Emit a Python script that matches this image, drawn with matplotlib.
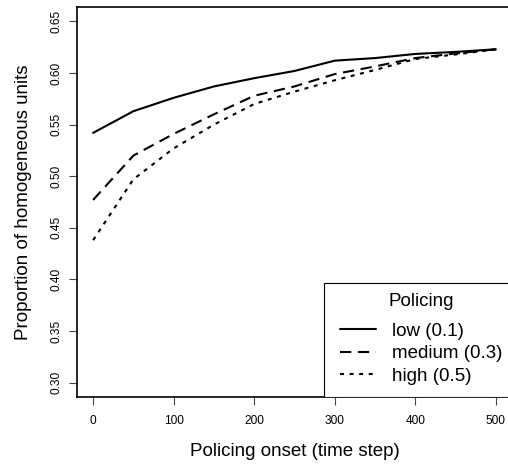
import matplotlib
matplotlib.use("Agg")
import matplotlib.pyplot as plt
from matplotlib.patches import Rectangle

plt.rcParams['font.family'] = ['Liberation Sans', 'DejaVu Sans']

onset = [0, 50, 100, 150, 200, 250, 300, 350, 400, 450, 500]
low = [0.542, 0.563, 0.576, 0.587, 0.595, 0.602, 0.612, 0.6145, 0.6185, 0.6205, 0.623]
medium = [0.477, 0.520, 0.541, 0.560, 0.578, 0.587, 0.599, 0.6064, 0.6145, 0.619, 0.623]
high = [0.438, 0.497, 0.527, 0.550, 0.570, 0.582, 0.593, 0.603, 0.6136, 0.618, 0.623]
labels = ["low (0.1)", "medium (0.3)", "high (0.5)"]
xticks = [0, 100, 200, 300, 400, 500]
yticks = [0.30, 0.35, 0.40, 0.45, 0.50, 0.55, 0.60, 0.65]

fig = plt.figure(figsize=(5.08, 4.65), dpi=100)
ax = fig.add_axes([77/508, 68/465, 435/508, 390/465])

lw = 1.5
ax.plot(onset, low, color='black', lw=lw, linestyle='-', label=labels[0],
        solid_capstyle='round', solid_joinstyle='round')
ax.plot(onset, medium, color='black', lw=lw, linestyle=(0, (5.4, 3.2)), label=labels[1],
        dash_capstyle='butt')
ax.plot(onset, high, color='black', lw=lw, linestyle=(0, (1.9, 2.7)), label=labels[2],
        dash_capstyle='butt')

ax.set_xlim(-20, 520)
ax.set_ylim(0.286, 0.664)
ax.set_xticks(xticks)
ax.set_xticklabels([str(v) for v in xticks])
ax.set_yticks(yticks)
ax.set_yticklabels([f"{v:.2f}" for v in yticks], rotation=90, va='center')

ax.tick_params(axis='both', direction='out', length=5.8, width=0.8, color='#444444',
               labelsize=8.6, labelcolor='black')
ax.tick_params(axis='x', pad=7.5)
ax.tick_params(axis='y', pad=5.0)
for s in ax.spines.values():
    s.set_linewidth(1.2)
    s.set_color('black')

ax.set_xlabel("Policing onset (time step)", fontsize=13.5, labelpad=11.5)
ax.set_ylabel("Proportion of homogeneous units", fontsize=13.5, labelpad=13.0)

# legend frame (R-style box, bottom-right)
frame = Rectangle(((324 - 77) / 435, 0), 1.0, (397 - 283.3) / 390,
                  transform=ax.transAxes, facecolor='white', edgecolor='black',
                  linewidth=0.8, zorder=4)
ax.add_patch(frame)

leg = ax.legend(loc='lower right', bbox_to_anchor=(1, 3 / 390), borderaxespad=0,
                title="Policing", fontsize=13.5, title_fontsize=13.5,
                frameon=False,
                handlelength=1.92, handletextpad=0.89, borderpad=0.5,
                labelspacing=0.29)
leg.set_zorder(5)
leg._legend_box.sep = 9.0

fig.savefig("out.png", dpi=100)
